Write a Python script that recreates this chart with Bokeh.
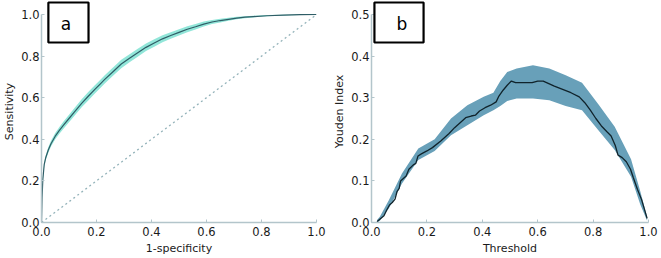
from bokeh.plotting import figure
from bokeh.layouts import row
from bokeh.models import BoxAnnotation, Label, Range1d, FixedTicker, PrintfTickFormatter
from bokeh.embed import file_html
from bokeh.resources import INLINE

# ---- Panel a: ROC curve ----
fpr = [0, 0.002, 0.005, 0.010, 0.015, 0.025, 0.035, 0.05, 0.065, 0.08,
       0.10, 0.12, 0.146, 0.17, 0.194, 0.215, 0.23, 0.26, 0.29, 0.32,
       0.35, 0.38, 0.41, 0.44, 0.47, 0.50, 0.53, 0.56, 0.59, 0.62,
       0.65, 0.68, 0.71, 0.74, 0.77, 0.82, 0.88, 0.94, 1.0]
tpr = [0, 0.12, 0.21, 0.28, 0.31, 0.35, 0.38, 0.415, 0.443, 0.468,
       0.50, 0.532, 0.573, 0.607, 0.64, 0.668, 0.688, 0.725, 0.762, 0.79,
       0.816, 0.842, 0.863, 0.883, 0.899, 0.914, 0.929, 0.941, 0.954, 0.964,
       0.971, 0.977, 0.983, 0.987, 0.990, 0.994, 0.997, 0.999, 1.0]
tpr_ci = [0, 0.005, 0.008, 0.010, 0.011, 0.013, 0.014, 0.015, 0.016, 0.017,
          0.018, 0.019, 0.019, 0.020, 0.020, 0.020, 0.020, 0.020, 0.020, 0.019,
          0.019, 0.018, 0.018, 0.017, 0.016, 0.015, 0.014, 0.013, 0.012, 0.010,
          0.009, 0.007, 0.006, 0.005, 0.004, 0.003, 0.002, 0.001, 0.0]
chance_x = [0.0, 1.0]
chance_y = [0.0, 1.0]

# ---- Panel b: Youden index ----
threshold = [0.020, 0.030, 0.045, 0.055, 0.065, 0.075, 0.085, 0.092, 0.100, 0.105,
             0.115, 0.125, 0.135, 0.150, 0.160, 0.168, 0.180, 0.200, 0.220, 0.250,
             0.280, 0.300, 0.320, 0.340, 0.360, 0.375, 0.390, 0.410, 0.430, 0.450,
             0.460, 0.475, 0.490, 0.505, 0.520, 0.550, 0.580, 0.600, 0.620, 0.640,
             0.660, 0.690, 0.720, 0.750, 0.770, 0.790, 0.810, 0.830, 0.850, 0.865,
             0.880, 0.890, 0.905, 0.920, 0.935, 0.945, 0.960, 0.975, 0.995]
youden = [0.002, 0.008, 0.016, 0.030, 0.042, 0.048, 0.056, 0.074, 0.082, 0.100,
          0.106, 0.112, 0.128, 0.138, 0.142, 0.160, 0.165, 0.172, 0.180, 0.196,
          0.214, 0.228, 0.240, 0.252, 0.256, 0.258, 0.268, 0.276, 0.282, 0.290,
          0.304, 0.318, 0.330, 0.340, 0.336, 0.336, 0.336, 0.340, 0.340, 0.334,
          0.328, 0.320, 0.312, 0.302, 0.288, 0.270, 0.250, 0.232, 0.218, 0.208,
          0.185, 0.162, 0.156, 0.146, 0.128, 0.108, 0.080, 0.055, 0.010]
band_x = [0.020, 0.030, 0.063, 0.110, 0.169, 0.228, 0.287, 0.346, 0.405, 0.440,
          0.465, 0.490, 0.524, 0.583, 0.642, 0.701, 0.760, 0.819, 0.878, 0.937,
          0.970, 0.995]
band_hi = [0.006, 0.014, 0.054, 0.118, 0.178, 0.200, 0.250, 0.282, 0.302, 0.312,
           0.340, 0.362, 0.370, 0.378, 0.370, 0.354, 0.336, 0.284, 0.230, 0.152,
           0.076, 0.014]
band_lo = [0.000, 0.004, 0.034, 0.094, 0.150, 0.172, 0.210, 0.234, 0.258, 0.270,
           0.280, 0.292, 0.298, 0.298, 0.294, 0.280, 0.270, 0.222, 0.174, 0.110,
           0.044, 0.004]

x_ticks = [0.0, 0.2, 0.4, 0.6, 0.8, 1.0]
ya_ticks = [0.0, 0.2, 0.4, 0.6, 0.8, 1.0]
yb_ticks = [0.0, 0.1, 0.2, 0.3, 0.4, 0.5]

FONT = "DejaVu Sans"
AXIS_COL = "#b3c5cb"
TXT_COL = "#1a1a1a"


def style(p, yticks, ymax, xlabel, ylabel):
    p.xgrid.visible = False
    p.ygrid.visible = False
    p.outline_line_color = None
    p.xaxis.ticker = FixedTicker(ticks=x_ticks)
    p.yaxis.ticker = FixedTicker(ticks=yticks)
    p.xaxis.bounds = (0, 1)
    p.yaxis.bounds = (0, ymax)
    for ax in (p.xaxis[0], p.yaxis[0]):
        ax.formatter = PrintfTickFormatter(format="%.1f")
        ax.axis_line_color = AXIS_COL
        ax.axis_line_width = 1.5
        ax.major_tick_line_color = AXIS_COL
        ax.major_tick_in = 3
        ax.major_tick_out = 0
        ax.minor_tick_line_color = None
        ax.major_label_text_font = FONT
        ax.major_label_text_font_size = "11.5px"
        ax.major_label_text_color = TXT_COL
        ax.axis_label_text_font = FONT
        ax.axis_label_text_font_size = "11px"
        ax.axis_label_text_font_style = "normal"
        ax.axis_label_text_color = TXT_COL
    p.xaxis.axis_label = xlabel
    p.yaxis.axis_label = ylabel
    p.xaxis.major_label_standoff = 4
    p.xaxis.axis_label_standoff = 3
    p.yaxis.major_label_standoff = 2
    p.yaxis.axis_label_standoff = 2


H = 258
# panel a
pa = figure(width=330, height=H, output_backend="svg", toolbar_location=None,
            x_range=Range1d(0, 1), y_range=Range1d(0, 222 / 208),
            min_border_left=36, min_border_right=14, min_border_top=0, min_border_bottom=36)
style(pa, ya_ticks, 1.0, "1-specificity", "Sensitivity")
lo_a = [t - c for t, c in zip(tpr, tpr_ci)]
hi_a = [t + c for t, c in zip(tpr, tpr_ci)]
pa.varea(x=fpr, y1=lo_a, y2=hi_a, fill_color="#92e6d9", fill_alpha=1.0)
pa.line(chance_x, chance_y, line_color="#94b3ba", line_width=1.3, line_dash="2 3")
pa.line(fpr, tpr, line_color="#2f5d66", line_width=1.2)
pa.add_layout(BoxAnnotation(left=0.025, right=0.171, bottom=0.8654, top=1.0577,
                            fill_color="white", fill_alpha=1.0,
                            line_color="black", line_alpha=1.0, line_width=2.2))
pa.add_layout(Label(x=0.089, y=0.952, text="a", text_font=FONT, text_font_size="17px",
                    text_align="center", text_baseline="middle", text_color="black"))

# panel b
pb = figure(width=331, height=H, output_backend="svg", toolbar_location=None,
            x_range=Range1d(0, 1), y_range=Range1d(0, 0.5 * 222 / 208),
            min_border_left=36, min_border_right=13, min_border_top=0, min_border_bottom=36)
style(pb, yb_ticks, 0.5, "Threshold", "Youden Index")
pb.varea(x=band_x, y1=band_lo, y2=band_hi, fill_color="#68a0b9", fill_alpha=1.0)
pb.line(threshold, youden, line_color="#10232b", line_width=1.3)
pb.add_layout(BoxAnnotation(left=0.0106, right=0.188, bottom=0.4327, top=0.5288,
                            fill_color="white", fill_alpha=1.0,
                            line_color="black", line_alpha=1.0, line_width=2.2))
pb.add_layout(Label(x=0.110, y=0.476, text="b", text_font=FONT, text_font_size="17px",
                    text_align="center", text_baseline="middle", text_color="black"))

layout = row(pa, pb)
open("out.html", "w").write(file_html(layout, INLINE))
